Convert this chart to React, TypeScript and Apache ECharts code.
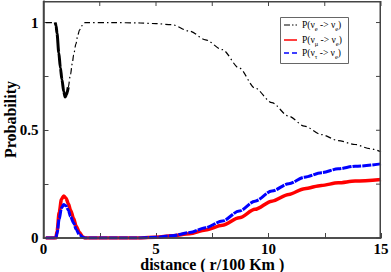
import React, { useEffect, useRef } from "react";
import * as echarts from "echarts";

const peeX = [0.1, 0.5, 0.56, 0.6, 0.68, 0.75, 0.82, 0.9, 0.96, 1.02, 1.1, 1.2, 1.28, 1.34, 1.44, 1.52, 1.6, 1.7, 1.85, 3, 4.3, 5, 5.7, 6.5, 7.2, 7.95, 8.7, 9.4, 10.15, 10.9, 11.6, 12.35, 13.1, 13.85, 14.5, 15];
const peeY = [1, 1, 0.985, 0.95, 0.86, 0.79, 0.735, 0.68, 0.655, 0.665, 0.7, 0.76, 0.81, 0.85, 0.9, 0.94, 0.965, 0.985, 1.0, 1.0, 0.998, 0.995, 0.99, 0.96, 0.92, 0.874, 0.789, 0.696, 0.628, 0.565, 0.519, 0.48, 0.452, 0.434, 0.415, 0.4];

const peeDipX = [0.52, 0.56, 0.6, 0.68, 0.75, 0.82, 0.9, 0.96, 1.02, 1.1];
const peeDipY = [1, 0.985, 0.95, 0.86, 0.79, 0.735, 0.68, 0.655, 0.665, 0.7];

const pmeX = [0.1, 0.55, 0.6, 0.7, 0.8, 0.9, 1.0, 1.1, 1.2, 1.34, 1.45, 1.6, 1.75, 1.85, 4, 5, 5.7, 6.5, 7.2, 7.95, 8.7, 9.4, 10.15, 10.9, 11.6, 12.35, 13.1, 13.85, 15];
const pmeY = [0, 0, 0.03, 0.12, 0.18, 0.195, 0.185, 0.16, 0.13, 0.09, 0.055, 0.025, 0.005, 0, 0, 0.003, 0.01, 0.02, 0.037, 0.059, 0.094, 0.133, 0.171, 0.202, 0.229, 0.244, 0.256, 0.264, 0.272];

const pteX = [0.1, 0.55, 0.6, 0.7, 0.8, 0.9, 1.0, 1.1, 1.2, 1.34, 1.45, 1.6, 1.75, 1.85, 4, 5, 5.7, 6.5, 7.2, 7.95, 8.7, 9.4, 10.15, 10.9, 11.6, 12.35, 13.1, 13.85, 15];
const pteY = [0, 0, 0.02, 0.09, 0.14, 0.155, 0.15, 0.13, 0.1, 0.07, 0.04, 0.015, 0.003, 0, 0, 0.003, 0.01, 0.025, 0.048, 0.079, 0.125, 0.171, 0.218, 0.252, 0.282, 0.303, 0.321, 0.333, 0.344];

const xTickLabels = ["0", "5", "10", "15"];
const yTickLabels = ["0", "0.5", "1"];
const xTickValues = [0, 2.5, 5, 7.5, 10, 12.5, 15];
const yTickValues = [0, 0.25, 0.5, 0.75, 1];
const X_MAX = 15;
const Y_MAX = 1.1;

const zip = (xs: number[], ys: number[]) => xs.map((x, i) => [x, ys[i]]);

const FONT = "Liberation Serif";
const AXIS_COLOR = "#444";
const GRID = { left: 43.5, right: 10, top: 1, bottom: 34 };
const W = 391;
const H = 272;

export default function App() {
  const ref = useRef<HTMLDivElement>(null);
  useEffect(() => {
    if (!ref.current) return;
    const chart = echarts.init(ref.current, undefined, { renderer: "svg" });
    const mkLine = () => ({ show: true, onZero: false, lineStyle: { color: AXIS_COLOR, width: 1.5 } });
    const mkTick = () => ({ show: true, inside: true, length: 5, lineStyle: { color: AXIS_COLOR, width: 1 } });
    const labelStyle = { fontFamily: FONT, fontWeight: "bold" as const, fontSize: 15, color: "#000" };
    const legendRich = {
      n: { fontFamily: FONT, fontSize: 9.5, color: "#000" },
      s: { fontFamily: FONT, fontSize: 6.5, color: "#000", padding: [7, 0, 0, 0] },
    };
    const legendItems = [
      { y: 25, text: "{n|P(ν}{s|e}{n| -> ν}{s|e}{n|)}", color: "#000", dash: [6, 2, 1.5, 2] as any, w: 1.2 },
      { y: 40, text: "{n|P(ν}{s|μ}{n| -> ν}{s|e}{n|)}", color: "#ff0000", dash: "solid" as any, w: 1.5 },
      { y: 53, text: "{n|P(ν}{s|τ}{n| -> ν}{s|e}{n|)}", color: "#0000ff", dash: [5, 3] as any, w: 1.5 },
    ];
    const gx0 = GRID.left;
    const gx1 = W - GRID.right;
    const gy1 = GRID.top;
    const gy0 = H - GRID.bottom;
    const graphics: any[] = [
      {
        type: "rect",
        shape: { x: gx0, y: gy1 + 0.75, width: gx1 - gx0 - 0.75, height: gy0 - gy1 - 0.75 },
        style: { fill: "none", stroke: AXIS_COLOR, lineWidth: 1.5 },
        silent: true,
        z: 50,
      },
      {
        type: "rect",
        shape: { x: 280.5, y: 17.5, width: 68, height: 46 },
        style: { fill: "#fff", stroke: "#666", lineWidth: 1 },
        z: 100,
      },
    ];
    legendItems.forEach((it) => {
      graphics.push({
        type: "line",
        shape: { x1: 284, y1: it.y, x2: 297, y2: it.y },
        style: { stroke: it.color, lineWidth: it.w, lineDash: it.dash === "solid" ? null : it.dash },
        z: 101,
      });
      graphics.push({
        type: "text",
        x: 302,
        y: it.y,
        style: { text: it.text, rich: legendRich, verticalAlign: "middle", align: "left" },
        z: 101,
      });
    });

    chart.setOption({
      animation: false,
      grid: { ...GRID, containLabel: false, outerBoundsMode: "none" },
      xAxis: {
        type: "value",
        min: 0,
        max: X_MAX,
        interval: 2.5,
        axisLine: mkLine(),
        axisTick: mkTick(),
        splitLine: { show: false },
        axisLabel: {
          ...labelStyle,
          margin: 3,
          formatter: (v: number) => (xTickLabels.includes(String(v)) ? String(v) : ""),
        },
        name: "distance ( r/100 Km )",
        nameLocation: "middle",
        nameGap: 26,
        nameMoveOverlap: false,
        nameTextStyle: { fontFamily: FONT, fontWeight: "bold", fontSize: 16, color: "#000", verticalAlign: "middle" },
      },
      yAxis: {
        type: "value",
        min: 0,
        max: Y_MAX,
        interval: 0.25,
        axisLine: mkLine(),
        axisTick: mkTick(),
        splitLine: { show: false },
        axisLabel: {
          ...labelStyle,
          margin: 5,
          showMaxLabel: false,
          formatter: (v: number) => (yTickLabels.includes(String(v)) ? String(v) : ""),
        },
        name: "Probability",
        nameLocation: "middle",
        nameRotate: 90,
        nameGap: 33,
        nameMoveOverlap: false,
        nameTextStyle: { fontFamily: FONT, fontWeight: "bold", fontSize: 16, color: "#000", verticalAlign: "middle" },
      },
      series: [
        {
          type: "line",
          name: "pme",
          data: zip(pmeX, pmeY),
          showSymbol: false,
          smooth: 0.3,
          smoothMonotone: "x",
          lineStyle: { color: "#ff0000", width: 3.5 },
          z: 2,
        },
        {
          type: "line",
          name: "pte",
          data: zip(pteX, pteY),
          showSymbol: false,
          smooth: 0.3,
          smoothMonotone: "x",
          lineStyle: { color: "#0000ff", width: 3, type: [9, 1] },
          z: 3,
        },
        {
          type: "line",
          name: "pee",
          data: zip(peeX, peeY),
          showSymbol: false,
          smooth: 0.3,
          smoothMonotone: "x",
          lineStyle: { color: "#000", width: 1.2, type: [6, 3, 1.5, 3] },
          z: 4,
        },
        {
          type: "line",
          name: "peeDip",
          data: zip(peeDipX, peeDipY),
          showSymbol: false,
          smooth: 0.3,
          smoothMonotone: "x",
          lineStyle: { color: "#000", width: 3 },
          z: 4,
        },
      ],
      graphic: graphics,
    });

    // inward ticks on the top and right edges, positioned through the chart's own scales
    const frameTicks: any[] = [];
    xTickValues.forEach((v) => {
      const p = chart.convertToPixel({ xAxisIndex: 0 }, v) as unknown as number;
      if (typeof p === "number" && isFinite(p)) {
        frameTicks.push({ type: "line", shape: { x1: p, y1: gy1, x2: p, y2: gy1 + 5 }, style: { stroke: AXIS_COLOR, lineWidth: 1 }, z: 50 });
      }
    });
    yTickValues.forEach((v) => {
      const p = chart.convertToPixel({ yAxisIndex: 0 }, v) as unknown as number;
      if (typeof p === "number" && isFinite(p)) {
        frameTicks.push({ type: "line", shape: { x1: gx1, y1: p, x2: gx1 - 5, y2: p }, style: { stroke: AXIS_COLOR, lineWidth: 1 }, z: 50 });
      }
    });
    if (frameTicks.length) chart.setOption({ graphic: [...graphics, ...frameTicks] });

    return () => chart.dispose();
  }, []);
  return <div ref={ref} style={{ width: W, height: H, position: "absolute", left: 0, top: 0 }} />;
}
